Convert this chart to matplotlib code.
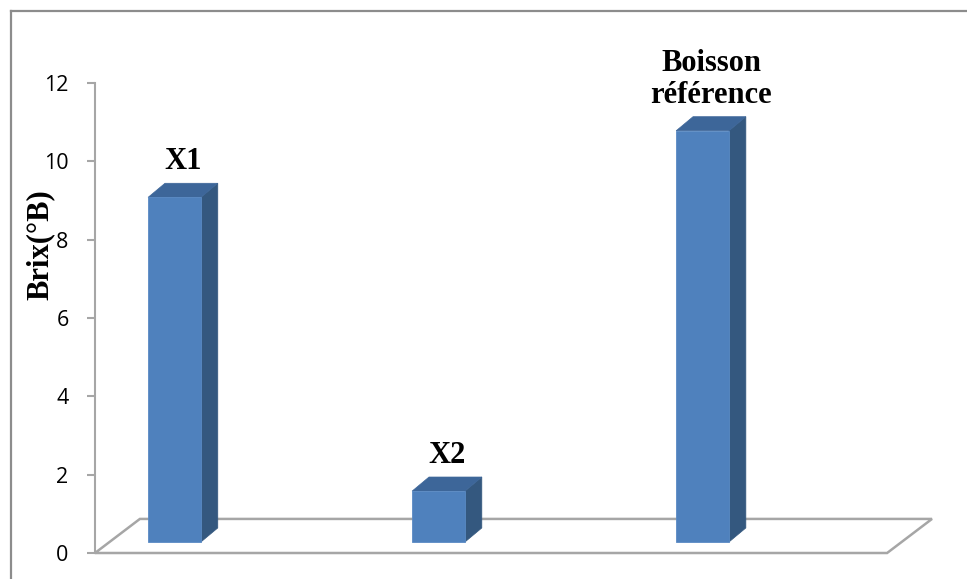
import matplotlib
matplotlib.use("Agg")
import matplotlib.pyplot as plt
from matplotlib.patches import Polygon, Rectangle
from matplotlib.lines import Line2D

# Brix values per sample
categories = ["X1", "X2", "Boisson\nréférence"]
brix = [8.8, 1.3, 10.5]
y_ticks = [0, 2, 4, 6, 8, 10, 12]

FRONT = "#4f81bd"
SIDE = "#34587f"
TOP = "#3d6699"
GRID = "#a6a6a6"

# fake 3d: oblique offsets in data units
bar_w = 0.20
plane_dx, plane_dy = 0.055, 0.28    # bars sit a bit behind the front edge
bar_dx, bar_dy = 0.064, 0.36        # depth of each column
floor_dx, floor_dy = 0.170, 0.87    # depth of the floor
x_lo, x_hi = -0.246, 2.924

W, H = 967, 579
fig = plt.figure(figsize=(W / 100, H / 100), dpi=100)
ax = fig.add_axes([95 / W, (H - 553) / H, (932 - 95) / W, (553 - 83) / H])
ax.set_xlim(x_lo, x_hi)
ax.set_ylim(0, 12)
for s in ["top", "right", "bottom"]:
    ax.spines[s].set_visible(False)
ax.spines["left"].set_color(GRID)
ax.spines["left"].set_linewidth(1.5)
ax.set_xticks([])
ax.set_yticks(y_ticks)
ax.tick_params(axis="y", direction="out", length=6, width=1.5, color=GRID,
               labelsize=15.5, pad=13)
for lab in ax.get_yticklabels():
    lab.set_fontfamily("Open Sans")

# floor parallelogram
fx1 = x_hi - floor_dx
floor = Polygon([(x_lo, 0), (fx1, 0), (x_hi, floor_dy), (x_lo + floor_dx, floor_dy)],
                closed=True, fill=False, edgecolor=GRID, linewidth=1.8, clip_on=False)
ax.add_patch(floor)

for i, (name, v) in enumerate(zip(categories, brix)):
    x0 = i - bar_w / 2 + plane_dx
    x1 = x0 + bar_w
    y0 = plane_dy
    y1 = plane_dy + v
    ax.add_patch(Polygon([(x1, y0), (x1 + bar_dx, y0 + bar_dy), (x1 + bar_dx, y1 + bar_dy), (x1, y1)],
                         closed=True, facecolor=SIDE, edgecolor=SIDE, linewidth=0.5, clip_on=False))
    ax.add_patch(Polygon([(x0, y1), (x1, y1), (x1 + bar_dx, y1 + bar_dy), (x0 + bar_dx, y1 + bar_dy)],
                         closed=True, facecolor=TOP, edgecolor=TOP, linewidth=0.5, clip_on=False))
    ax.add_patch(Rectangle((x0, y0), bar_w, v, facecolor=FRONT, edgecolor="#5a8ac4",
                           linewidth=0.6, clip_on=False))
    ax.annotate(name, xy=((x0 + x1 + bar_dx) / 2, y1 + bar_dy), xytext=(0, 5),
                textcoords="offset points", ha="center", va="bottom", multialignment="center",
                fontsize=22, fontweight="bold", family="Liberation Serif", linespacing=1.12,
                annotation_clip=False)

ax.set_ylabel("Brix(°B)", fontsize=22, fontweight="bold", family="Liberation Serif")
ax.yaxis.label.set_va("center")
ax.yaxis.set_label_coords(-0.066, 0.657)

# chart border (runs off the right and bottom edges)
fig.add_artist(Line2D([11 / W, 1.0], [1 - 11 / H, 1 - 11 / H], color="#8c8c8c", linewidth=1.6))
fig.add_artist(Line2D([11 / W, 11 / W], [1 - 11 / H, 0.0], color="#8c8c8c", linewidth=1.6))

fig.savefig("out.png", dpi=100)
